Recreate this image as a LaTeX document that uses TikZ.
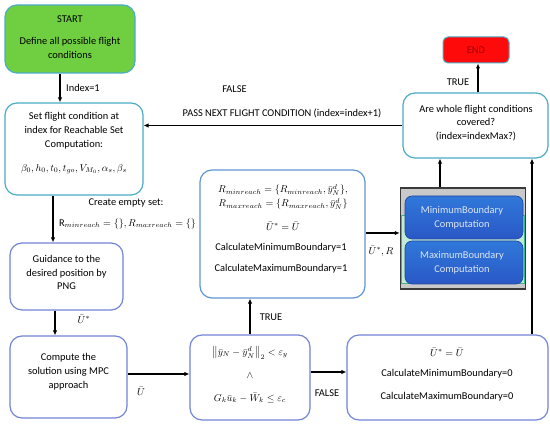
\documentclass[tikz,border=0pt]{standalone}
\usepackage{fontspec}
\setmainfont{Carlito}
\usetikzlibrary{arrows.meta}
\definecolor{cyanb}{HTML}{4BACC6}
\definecolor{perib}{HTML}{7385D6}
\definecolor{midb}{HTML}{5E96D2}
\definecolor{startg}{HTML}{70CF40}
\definecolor{endr}{HTML}{FF0A0A}
\definecolor{endt}{HTML}{A00000}
\definecolor{grayf}{HTML}{C9C9C9}
\definecolor{grayb}{HTML}{3A3A3A}
\definecolor{mint}{HTML}{BFEBD8}
\definecolor{mintb}{HTML}{3CB88A}
\definecolor{bluet}{HTML}{3078DA}
\definecolor{blueb}{HTML}{2A58C6}
\definecolor{bluetext}{HTML}{DCE6F5}
\tikzset{
  box/.style={draw, rounded corners=12pt, line width=1.2pt, minimum width=#1, inner sep=0pt},
  txt/.style={font=\fontsize{10.4}{13.8}\selectfont, align=center, inner sep=0pt},
  arr/.style={line width=1.7pt, -{Latex[length=5pt,width=4.5pt]}},
  bluebox/.style={draw=blueb!80!black, line width=0.6pt, rounded corners=7pt, top color=bluet, bottom color=blueb, minimum width=118pt, inner sep=0pt}
}
\begin{document}
\begin{tikzpicture}[x=1pt,y=-1pt]
\useasboundingbox[fill=white] (0,0) rectangle (550,427);
% boxes
\node[box=130pt, minimum height=68pt, draw=cyanb, fill=startg] (START) at (70,39) {};
\node[box=138pt, minimum height=92pt, draw=cyanb] (Set) at (74,149) {};
\node[box=113pt, minimum height=67pt, draw=perib] (Guid) at (66.5,276.5) {};
\node[box=117pt, minimum height=82pt, draw=perib] (Comp) at (68.5,377) {};
\node[box=120pt, minimum height=85pt, draw=perib] (Cond) at (250,377.5) {};
\node[box=201pt, minimum height=85pt, draw=perib] (RLow) at (447.5,377.5) {};
\node[box=165pt, minimum height=128pt, draw=midb] (UMid) at (282.5,234) {};
\node[draw=grayb, line width=1.5pt, fill=grayf, minimum width=125pt, minimum height=101pt, inner sep=0pt] (Gray) at (463,238.5) {};
\node[draw=mintb, line width=0.6pt, fill=mint, minimum width=123pt, minimum height=68pt, inner sep=0pt] (Mint) at (463,249.5) {};
\node[bluebox, minimum height=43pt] (Min) at (464,217.5) {};
\node[bluebox, minimum height=43pt] (Max) at (464,262.5) {};
\node[box=145pt, minimum height=65pt, draw=cyanb] (Top) at (475.5,125.5) {};
\node[draw=cyanb, line width=1pt, rounded corners=5pt, fill=endr, minimum width=66pt, minimum height=26pt, inner sep=0pt] (END) at (476,50) {};
% texts
\node[txt] (tStart) at (70,19) {START};
\node[txt] (tDef) at (70,48) {Define all possible flight\\conditions};
\node[txt] (tSet) at (74,131) {Set flight condition at\\index for Reachable Set\\Computation:};
\node[txt] (tSetM) at (74,169) {$\beta_0, h_0, t_0, t_{go}, V_{M_0}, \alpha_s, \beta_s$};
\node[txt] (tGuid) at (66.5,272.5) {Guidance to the\\desired position by\\PNG};
\node[txt] (tComp) at (68.5,372) {Compute the\\solution using MPC\\approach};
\node[txt] (tC1) at (250,353) {$\left\|\bar{y}_N-\bar{y}_N^d\right\|_2<\varepsilon_y$};
\node[txt] (tC2) at (250,376) {$\wedge$};
\node[txt] (tC3) at (250,398) {$G_k\bar{u}_k-\bar{W}_k\leq\varepsilon_c$};
\node[txt] (tR1) at (447,352) {$\bar{U}^{*}=\bar{U}$};
\node[txt] (tR2) at (447,374) {CalculateMinimumBoundary=0};
\node[txt] (tR3) at (447,397) {CalculateMaximumBoundary=0};
\node[txt] (tU1) at (283,190) {$R_{minreach}=\{R_{minreach},\bar{y}_N^d\},$};
\node[txt] (tU2) at (283,204) {$R_{maxreach}=\{R_{maxreach},\bar{y}_N^d\}$};
\node[txt] (tU3) at (283,226) {$\bar{U}^{*}=\bar{U}$};
\node[txt] (tU4) at (281,248) {CalculateMinimumBoundary=1};
\node[txt] (tU5) at (281,269) {CalculateMaximumBoundary=1};
\node[txt, text=bluetext] (tMin) at (462,218) {MinimumBoundary\\Computation};
\node[txt, text=bluetext] (tMax) at (462,262.5) {MaximumBoundary\\Computation};
\node[txt] (tTop) at (476,123) {Are whole flight conditions\\covered?\\(index=indexMax?)};
\node[txt, text=endt] (tEnd) at (476,50) {END};
% connector coordinates
\coordinate (c1) at ([xshift=-10pt]START.south);
\coordinate (c2) at ([xshift=-21pt]Set.south);
\coordinate (c3) at ([xshift=-11.5pt]Guid.south);
\coordinate (c4) at ([yshift=3pt]Comp.east);
\coordinate (c5) at (Cond.north);
\coordinate (c6) at ([yshift=5.5pt]Cond.east);
\coordinate (c7) at ([xshift=84.5pt]RLow.north);
\coordinate (c8) at ([yshift=1pt]UMid.east);
\coordinate (c9) at ([xshift=-23pt]Gray.north);
\coordinate (c10) at ([xshift=2.5pt]Top.north);
\coordinate (c11) at (Top.west);
% connectors
\draw[arr] (c1) -- (c1 |- Set.north);
\draw[arr] (c2) -- (c2 |- Guid.north);
\draw[arr] (c3) -- (c3 |- Comp.north);
\draw[arr] (c4) -- (c4 -| Cond.west);
\draw[arr] (c5) -- (c5 |- UMid.south);
\draw[arr] (c6) -- (c6 -| RLow.west);
\draw[arr] (c7) -- (c7 |- Top.south);
\draw[arr] (c8) -- (c8 -| Gray.west);
\draw[arr] (c9) -- (c9 |- Top.south);
\draw[arr] (c10) -- (c10 |- END.south);
\draw[arr] (c11) -- (c11 -| Set.east);
% labels
\node[txt, anchor=west] (lIdx) at (66,88) {Index=1};
\node[txt] (lCreate) at (126,203) {Create empty set:};
\node[txt] (lEmpty) at (127.5,224) {$\mathrm{R}_{minreach}=\{\},R_{maxreach}=\{\}$};
\node[txt] (lUs) at (84,319) {$\bar{U}^{*}$};
\node[txt] (lU) at (141,391) {$\bar{U}$};
\node[txt] (lTrue1) at (271,317) {TRUE};
\node[txt] (lFalse1) at (327,393) {FALSE};
\node[txt] (lUR) at (381,251) {$\bar{U}^{*},R$};
\node[txt] (lTrue2) at (458,82) {TRUE};
\node[txt] (lFalse2) at (234.5,89) {FALSE};
\node[txt] (lPass) at (282,113) {PASS NEXT FLIGHT CONDITION (index=index+1)};
\end{tikzpicture}
\end{document}
